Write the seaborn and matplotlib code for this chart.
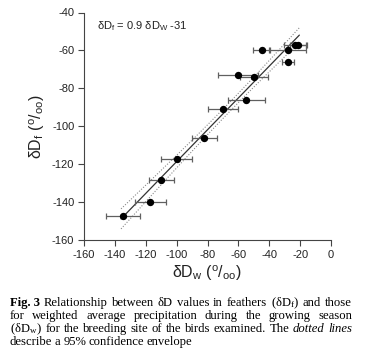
import numpy as np
import pandas as pd
import matplotlib
matplotlib.use("Agg")
import matplotlib.pyplot as plt
import seaborn as sns

# ---- data ----
dDw = [-135, -117, -110, -100, -82, -70, -55, -60, -50, -45, -28, -28, -23, -21.5]
dDf = [-147, -140, -128, -117, -106, -91, -86, -73, -74, -59.5, -59.5, -66, -57, -57]
dDw_err = [11, 10, 8, 10, 8, 10, 12, 13, 9, 5.5, 12, 4, 7.5, 5]

x_ticks = [-160, -140, -120, -100, -80, -60, -40, -20, 0]
y_ticks = [-160, -140, -120, -100, -80, -60, -40]

equation = "δD$_\\mathsf{f}$ = 0.9 δD$_\\mathsf{W}$ -31"
xlabel = "δD$_\\mathsf{w}$ ($^\\mathsf{o}$/$_\\mathsf{oo}$)"
ylabel = "δD$_\\mathsf{f}$ ($^\\mathsf{o}$/$_\\mathsf{oo}$)"

caption_lines = [
    [("Fig. 3", "bold"), "Relationship", "between", "δD", "values", "in", "feathers",
     "(δD$_\\mathrm{f}$)", "and", "those"],
    ["for", "weighted", "average", "precipitation", "during", "the", "growing", "season"],
    ["(δD$_\\mathrm{w}$)", "for", "the", "breeding", "site", "of", "the", "birds",
     "examined.", "The", ("dotted", "italic"), ("lines", "italic")],
    ["describe", "a", "95%", "confidence", "envelope"],
]

df = pd.DataFrame({"dDw": dDw, "dDf": dDf, "err": dDw_err})

sns.set_style("ticks")
plt.rcParams["font.family"] = ["Liberation Sans", "DejaVu Sans"]
plt.rcParams["mathtext.fontset"] = "custom"
plt.rcParams["mathtext.rm"] = "Liberation Serif"
plt.rcParams["mathtext.it"] = "Liberation Serif:italic"
plt.rcParams["mathtext.sf"] = "Liberation Sans"

W, H = 369, 357
fig = plt.figure(figsize=(W / 100, H / 100), dpi=100)
fig.patch.set_facecolor("white")
ax = fig.add_axes([84 / W, 1 - 240.3 / H, (331 - 84) / W, (240.3 - 12.5) / H])
ax.set_facecolor("white")

# regression and confidence envelope
xv = np.asarray(dDw, float)
yv = np.asarray(dDf, float)
n = len(xv)
b, a = np.polyfit(xv, yv, 1)
resid = yv - (a + b * xv)
s = np.sqrt(np.sum(resid ** 2) / (n - 2))
xm = xv.mean()
sxx = np.sum((xv - xm) ** 2)
tval = 1.4
xs = np.linspace(xv.min() - 1, xv.max() + 1, 100)
ys = a + b * xs
ci = tval * s * np.sqrt(1 / n + (xs - xm) ** 2 / sxx)
ax.plot(xs, ys, color="#333333", lw=0.9, zorder=2)
ax.plot(xs, ys + ci, color="#8a8a8a", lw=0.8, ls=(0, (1, 1.5)), zorder=2)
ax.plot(xs, ys - ci, color="#8a8a8a", lw=0.8, ls=(0, (1, 1.5)), zorder=2)

ax.errorbar(df["dDw"], df["dDf"], xerr=df["err"], fmt="none", ecolor="#606060",
            elinewidth=0.9, capsize=2.5, capthick=0.9, zorder=3)
sns.scatterplot(data=df, x="dDw", y="dDf", ax=ax, color="black", s=28,
                edgecolor="black", linewidth=0, zorder=4, legend=False)

ax.set_xlim(-160, 0)
ax.set_ylim(-160, -40)
ax.set_xticks(x_ticks)
ax.set_yticks(y_ticks)
ax.set_xticklabels([str(t) for t in x_ticks])
ax.set_yticklabels([str(t) for t in y_ticks])
ax.tick_params(axis="both", direction="out", length=4, width=0.8, color="#444444",
               labelsize=8, labelcolor="#222222", pad=3)
ax.set_xlabel("")
ax.set_ylabel("")
sns.despine(ax=ax)
for sp in ["left", "bottom"]:
    ax.spines[sp].set_color("#444444")
    ax.spines[sp].set_linewidth(0.8)

fig.text(97 / W, 1 - 26 / H, equation, fontsize=8, color="#222222",
         va="center", ha="left")
fig.text(207 / W, 1 - 272 / H, xlabel, fontsize=11.5, ha="center", va="center",
         color="#222222")
fig.text(36 / W, 1 - 127 / H, ylabel, fontsize=11.5, ha="center", va="center",
         rotation=90, color="#222222")

# caption with justified lines
fig.canvas.draw()
renderer = fig.canvas.get_renderer()
x0, x1 = 10, 352
baselines = [306.2, 319.2, 332.2, 345.2]
fs = 9.1
for i, words in enumerate(caption_lines):
    objs = []
    for w in words:
        weight, style = "normal", "normal"
        if isinstance(w, tuple):
            w, kind = w
            if kind == "bold":
                weight = "bold"
            else:
                style = "italic"
        t = fig.text(0, 1 - baselines[i] / H, w, fontsize=fs, family="Liberation Serif",
                     weight=weight, style=style, va="baseline", ha="left",
                     color="black")
        objs.append(t)
    widths = [o.get_window_extent(renderer).width for o in objs]
    total = sum(widths)
    if i < len(caption_lines) - 1:
        gap = (x1 - x0 - total) / (len(objs) - 1)
    else:
        gap = 2.6
    x = x0
    for o, wdt in zip(objs, widths):
        o.set_x(x / W)
        x += wdt + gap

fig.savefig("out.png", dpi=100, facecolor="white")
